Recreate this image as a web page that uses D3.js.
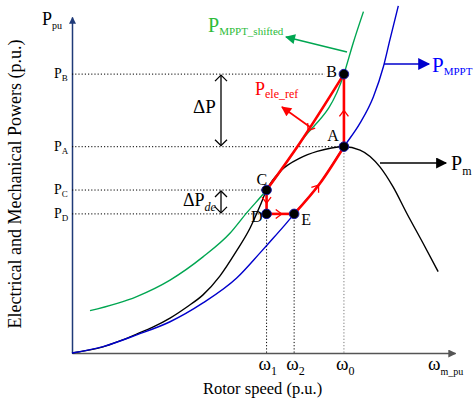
<!DOCTYPE html>
<html>
<head>
<meta charset="utf-8">
<script src="https://cdn.jsdelivr.net/npm/d3@7"></script>
<style>
  body { margin: 0; background: #fff; }
  text { font-family: "Liberation Serif", "Times New Roman", serif; }
</style>
</head>
<body>
<div id="chart"></div>
<script>
// rotor speed (x) and power (y) in chart units, 0..100
var speedMarks = [{ sub: "1", w: 50.8 }, { sub: "2", w: 58.0 }, { sub: "0", w: 71.0 }];
var powerMarks = [{ sub: "B", p: 83.0 }, { sub: "A", p: 61.4 }, { sub: "C", p: 48.5 }, { sub: "D", p: 41.4 }];

// operating points of the cycle A -> B -> C -> D -> E -> A
var opNames = ["A", "B", "C", "D", "E"];
var opSpeed = [71.0, 71.0, 50.8, 50.8, 58.0];
var opPower = [61.4, 83.0, 48.5, 41.4, 41.4];

// curves
var pMppt = [[0, 0], [8.1, 1.9], [16.9, 5.4], [25.6, 9.3], [34.2, 14.9], [43.0, 22.3], [49.1, 29.8],
  [51.7, 33.1], [55.2, 37.6], [58.0, 41.4], [64.8, 50.6], [71.0, 61.4], [75.2, 68.4], [78.7, 76.3],
  [81.3, 85.2], [83.0, 93.2], [85.2, 103.3]];
var pMpptShifted = [[4.7, 12.6], [16.9, 16.8], [25.6, 21.7], [34.2, 28.6], [41.3, 35.7], [45.6, 41.7],
  [50.8, 48.5], [59.5, 62.5], [71.0, 83.0], [73.4, 92.2], [76.1, 101.6]];
var pMech = [[0, 0], [8.1, 1.8], [12.5, 3.6], [17.0, 5.7], [21.1, 7.7], [25.6, 10.4], [30.0, 13.7],
  [34.2, 17.3], [38.6, 22.9], [42.8, 30.1], [46.5, 37.2], [49.1, 43.8], [50.8, 48.5], [54.8, 54.5],
  [59.5, 58.0], [64.0, 60.0], [71.0, 61.4], [75.2, 60.4], [80.4, 55.4], [83.8, 49.5], [87.4, 41.6],
  [91.7, 32.6], [95.6, 24.2]];

var width = 475, height = 405;

var svg = d3.select("#chart").append("svg")
    .attr("width", width)
    .attr("height", height);

var x = d3.scaleLinear().domain([0, 100]).range([72, 455]);
var y = d3.scaleLinear().domain([0, 100]).range([353, 17]);

// arrow heads
var defs = svg.append("defs");
function marker(id, color, w, h) {
    defs.append("marker")
        .attr("id", id)
        .attr("viewBox", "0 -5 10 10")
        .attr("refX", 9)
        .attr("refY", 0)
        .attr("markerUnits", "userSpaceOnUse")
        .attr("markerWidth", w)
        .attr("markerHeight", h)
        .attr("orient", "auto")
        .append("path")
        .attr("d", "M0,-5L10,0L0,5Z")
        .attr("fill", color);
}
marker("tri-navy", "#1f3a78", 7, 9);
marker("tri-gray", "#555", 8, 8);
marker("tri-black", "#000", 12, 11);
marker("tri-blue", "#0000cc", 13, 12);
marker("tri-green", "#00a651", 11, 10);
marker("tri-red", "#ff0000", 11, 10);

// axes (no numeric ticks)
var xAxis = svg.append("g")
    .attr("transform", "translate(0," + y(0) + ")")
    .call(d3.axisBottom(x).tickValues([]).tickSizeOuter(0));
xAxis.select(".domain").attr("stroke", "#555").attr("stroke-width", 1.5)
    .attr("marker-end", "url(#tri-gray)");

var yAxis = svg.append("g")
    .attr("transform", "translate(" + x(0) + ",0)")
    .call(d3.axisLeft(y).tickValues([]).tickSizeOuter(0));
yAxis.select(".domain").attr("stroke", "#1f3a78").attr("stroke-width", 1.5)
    .attr("marker-end", "url(#tri-navy)");

// dotted guides
var guides = svg.append("g").attr("fill", "none").attr("stroke-dasharray", "1.2,2").attr("stroke-width", 1);
powerMarks.forEach(function (d, i) {
    var k = opNames.indexOf(d.sub);
    var xEnd = d.sub === "B" ? x(opSpeed[k]) - 19 : x(opSpeed[k]);
    guides.append("line")
        .attr("x1", x(0)).attr("x2", xEnd)
        .attr("y1", y(d.p)).attr("y2", y(d.p))
        .attr("stroke", "#000");
});
[["D", "#000"], ["E", "#000"], ["A", "#777"]].forEach(function (d) {
    var k = opNames.indexOf(d[0]);
    guides.append("line")
        .attr("x1", x(opSpeed[k])).attr("x2", x(opSpeed[k]))
        .attr("y1", y(opPower[k])).attr("y2", y(0))
        .attr("stroke", d[1]);
});

// curves
var line = d3.line().x(function (d) { return x(d[0]); }).y(function (d) { return y(d[1]); })
    .curve(d3.curveMonotoneX);

svg.append("path").datum(pMpptShifted).attr("d", line)
    .attr("fill", "none").attr("stroke", "#00a651").attr("stroke-width", 1.4);
svg.append("path").datum(pMech).attr("d", line)
    .attr("fill", "none").attr("stroke", "#000").attr("stroke-width", 1.4);
svg.append("path").datum(pMppt).attr("d", line)
    .attr("fill", "none").attr("stroke", "#0000cc").attr("stroke-width", 1.4);

// red operating trajectory
var red = svg.append("g").attr("fill", "none").attr("stroke", "#ff0000");
var segCB = pMpptShifted.filter(function (d) { return d[0] >= opSpeed[2] && d[0] <= opSpeed[1]; });
var segEA = pMppt.filter(function (d) { return d[0] >= opSpeed[4] && d[0] <= opSpeed[0]; });
var segAB = [[opSpeed[0], opPower[0]], [opSpeed[1], opPower[1]]];
var segCD = [[opSpeed[2], opPower[2]], [opSpeed[3], opPower[3]]];
var segDE = [[opSpeed[3], opPower[3]], [opSpeed[4], opPower[4]]];

var straight = d3.line().x(function (d) { return x(d[0]); }).y(function (d) { return y(d[1]); });

function redSeg(pts, curved, reverse, frac) {
    var p = red.append("path").datum(pts)
        .attr("d", curved ? line : straight)
        .attr("stroke-width", 2.6);
    var node = p.node(), L = node.getTotalLength();
    var s = L * frac;
    var a = node.getPointAtLength(s), b = node.getPointAtLength(Math.min(L, s + 1));
    var ang = Math.atan2(b.y - a.y, b.x - a.x) * 180 / Math.PI;
    if (reverse) ang += 180;
    red.append("path")
        .attr("d", "M-6,-4.5L0,0L-6,4.5")
        .attr("transform", "translate(" + a.x + "," + a.y + ") rotate(" + ang + ")")
        .attr("stroke-width", 1.3);
}
redSeg(segAB, false, false, 0.5);
redSeg(segCB, true, true, 0.52);
redSeg(segCD, false, false, 0.55);
redSeg(segDE, false, false, 0.55);
redSeg(segEA, true, false, 0.45);

// operating points
svg.append("g").selectAll("circle")
    .data(opNames)
    .enter()
    .append("circle")
    .attr("cx", function (d, i) { return x(opSpeed[i]); })
    .attr("cy", function (d, i) { return y(opPower[i]); })
    .attr("r", 4.8)
    .attr("fill", "#000")
    .attr("stroke", "#1a1aa0")
    .attr("stroke-width", 1);

var pointLabelOffset = { A: [-5, -6, "end"], B: [-7, 3, "end"], C: [-10, -5, "start"], D: [-4, 8, "end"], E: [7, 11, "start"] };
svg.append("g").selectAll("text")
    .data(opNames)
    .enter()
    .append("text")
    .attr("x", function (d, i) { return x(opSpeed[i]) + pointLabelOffset[d][0]; })
    .attr("y", function (d, i) { return y(opPower[i]) + pointLabelOffset[d][1]; })
    .attr("text-anchor", function (d) { return pointLabelOffset[d][2]; })
    .style("font-size", "16px")
    .text(function (d) { return d; });

// text with subscript
function subText(px, py, main, sub, size, subSize, dy, color, italic) {
    var t = svg.append("text").attr("x", px).attr("y", py)
        .attr("fill", color || "#000").style("font-size", size + "px");
    t.append("tspan").text(main);
    t.append("tspan").attr("dy", dy).style("font-size", subSize + "px")
        .style("font-style", italic ? "italic" : null).text(sub);
    return t;
}

// power labels on the y axis
subText(42, 25, "P", "pu", 18, 10, 4);
powerMarks.forEach(function (d) {
    subText(54, y(d.p) + 4, "P", d.sub, 14, 9, 3);
});

// speed labels on the x axis
speedMarks.forEach(function (d) {
    subText(x(d.w) - 8, 370, "\u03c9", d.sub, 19, 12, 5);
});
subText(428, 370, "\u03c9", "m_pu", 19, 10, 5);

// delta P arrows
function dblArrow(xp, p1, p2) {
    var g = svg.append("g").attr("stroke", "#000").attr("fill", "none").attr("stroke-width", 1.3);
    var ya = y(p1) + 1, yb = y(p2) - 1;
    g.append("line").attr("x1", xp).attr("x2", xp).attr("y1", ya).attr("y2", yb);
    g.append("path").attr("d", "M" + (xp - 6) + "," + (ya + 6) + "L" + xp + "," + ya + "L" + (xp + 6) + "," + (ya + 6));
    g.append("path").attr("d", "M" + (xp - 6) + "," + (yb - 6) + "L" + xp + "," + yb + "L" + (xp + 6) + "," + (yb - 6));
}
dblArrow(221, powerMarks[0].p, powerMarks[1].p);
dblArrow(221, powerMarks[2].p, powerMarks[3].p);

svg.append("text").attr("x", 193).attr("y", 113).style("font-size", "19px").text("\u0394P");
subText(183, 206, "\u0394P", "de", 18, 12, 5, "#000", true);

// callouts
function callout(x1, y1, x2, y2, color, mk) {
    svg.append("line").attr("x1", x1).attr("y1", y1).attr("x2", x2).attr("y2", y2)
        .attr("stroke", color).attr("stroke-width", 1.6)
        .attr("marker-end", "url(#" + mk + ")");
}
callout(347, 52, 286, 37, "#00a651", "tri-green");
subText(208, 32, "P", "MPPT_shifted", 20, 11, 3, "#2dbb3a");

callout(384, 64, 429, 64, "#0000cc", "tri-blue");
subText(432, 72, "P", "MPPT", 21, 11, 3, "#0000ff");

callout(380, 163, 446, 163, "#000", "tri-black");
subText(451, 170, "P", "m", 20, 12, 5);

callout(310, 127, 282, 107, "#ff0000", "tri-red");
subText(255, 95, "P", "ele_ref", 18, 12, 3, "#ff0000");

// axis titles
svg.append("text")
    .attr("transform", "translate(21,184) rotate(-90)")
    .attr("text-anchor", "middle")
    .style("font-size", "18px")
    .text("Electrical and Mechanical Powers (p.u.)");

svg.append("text")
    .attr("x", 203).attr("y", 394)
    .style("font-size", "16.5px")
    .text("Rotor speed (p.u.)");
</script>
</body>
</html>
